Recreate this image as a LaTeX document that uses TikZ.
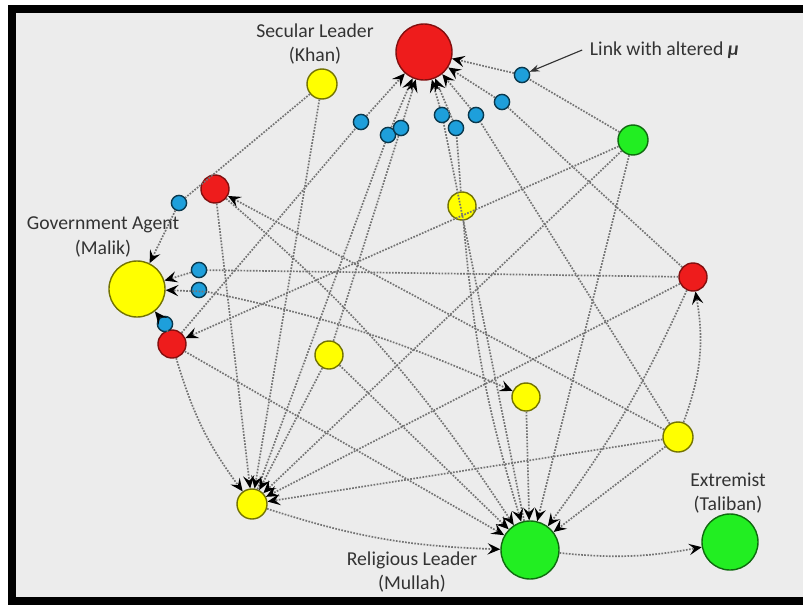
\documentclass[tikz,border=0pt]{standalone}
\usepackage{fontspec}
\setmainfont{Carlito}
\usetikzlibrary{arrows.meta}

\definecolor{bgcol}{HTML}{ECECEC}
\definecolor{agred}{HTML}{EE1C1C}
\definecolor{agyellow}{HTML}{FFFF00}
\definecolor{aggreen}{HTML}{22EE22}
\definecolor{agblue}{HTML}{1E9FDB}

\tikzset{
  agent/.style={circle, line width=1pt, inner sep=0pt},
  redag/.style={agent, fill=agred, draw=agred!55!black},
  yelag/.style={agent, fill=agyellow, draw=agyellow!45!black},
  grnag/.style={agent, fill=aggreen, draw=aggreen!45!black},
  bluemk/.style={agent, fill=agblue, draw=agblue!35!black, minimum size=0.38cm},
  link/.style={densely dotted, line width=1.2pt, black!55, -{Stealth[black, length=9pt, width=8pt, inset=3.5pt]}},
  twoway/.style={link, {Stealth[black, length=9pt, width=8pt, inset=3.5pt]}-{Stealth[black, length=9pt, width=8pt, inset=3.5pt]}},
  lbl/.style={font=\fontsize{14}{17.5}\selectfont, text=black!80, align=center}
}

\begin{document}
\begin{tikzpicture}[x=0.025cm, y=-0.025cm]
\useasboundingbox (0,0) rectangle (803,605);
\fill[black] (8,5) rectangle (803,605);
\fill[bgcol] (16,13) rectangle (803,597);

% agents
\node[redag, minimum size=1.4cm] at (424,52) (r1) {};
\node[yelag, minimum size=0.75cm] at (322,84) (khan) {};
\node[redag, minimum size=0.7cm] at (215,189) (rl) {};
\node[yelag, minimum size=1.4cm] at (137,289) (malik) {};
\node[redag, minimum size=0.7cm] at (172,344) (rlo) {};
\node[grnag, minimum size=0.75cm] at (633,140) (g1) {};
\node[yelag, minimum size=0.7cm] at (462,206) (ym) {};
\node[redag, minimum size=0.7cm] at (693,277) (rr) {};
\node[yelag, minimum size=0.7cm] at (329,355) (y2) {};
\node[yelag, minimum size=0.7cm] at (526,397) (y3) {};
\node[yelag, minimum size=0.75cm] at (678,437) (y4) {};
\node[yelag, minimum size=0.75cm] at (252,504) (yb) {};
\node[grnag, minimum size=1.45cm] at (530,550) (mullah) {};
\node[grnag, minimum size=1.4cm] at (730,542) (taliban) {};

% altered links
\node[bluemk] at (179,203) (b1) {};
\node[bluemk] at (199,270) (b2) {};
\node[bluemk] at (199,290) (b3) {};
\node[bluemk] at (165,324) (b4) {};
\node[bluemk] at (361,122) (b5) {};
\node[bluemk] at (388,135) (b6) {};
\node[bluemk] at (401,128) (b7) {};
\node[bluemk] at (442,115) (b8) {};
\node[bluemk] at (456,128) (b9) {};
\node[bluemk] at (476,115) (b10) {};
\node[bluemk] at (502,102) (b11) {};
\node[bluemk] at (522,75) (b12) {};

% links into the top red agent
\draw[link] (rlo) -- (b5) -- (r1);
\draw[link] (yb) -- (b6) -- (r1);
\draw[link] (y2) -- (b7) -- (r1);
\draw[link] (mullah) -- (b8) -- (r1);
\draw[link] (ym) -- (b9) -- (r1);
\draw[link] (y4) -- (b10) -- (r1);
\draw[link] (rr) -- (b11) -- (r1);
\draw[link] (g1) -- (b12) -- (r1);

% links into Malik
\draw[link] (khan) -- (b1) -- (malik);
\draw[link] (rr) -- (b2) -- (malik);
\draw[twoway] (y3) to[bend right=6] (b3) -- (malik);
\draw[link] (rlo) -- (b4) -- (malik);

\draw[link] (y4) -- (rl);
\draw[link] (g1) -- (rlo);
\draw[link] (y4) to[bend right=15] (rr);
\draw[link] (mullah) to[bend right=8] (taliban);

% links into the lower yellow agent
\draw[link] (khan) -- (yb);
\draw[link] (rl) -- (yb);
\draw[link] (rlo) to[bend right=10] (yb);
\draw[link] (g1) -- (yb);
\draw[link] (rr) -- (yb);
\draw[link] (y4) -- (yb);
\draw[link] (y2) -- (yb);

% links into the Mullah
\draw[link] (yb) to[bend right=8] (mullah);
\draw[link] (rlo) -- (mullah);
\draw[link] (rl) to[bend left=8] (mullah);
\draw[link] (y2) -- (mullah);
\draw[link] (ym) to[bend right=6] (mullah);
\draw[link] (y3) -- (mullah);
\draw[link] (g1) -- (mullah);
\draw[link] (y4) -- (mullah);
\draw[link] (rr) to[bend left=6] (mullah);

% labels
\node[lbl] at (315,44) (khanlbl) {Secular Leader\\(Khan)};
\node[lbl] at (103,237) (maliklbl) {Government Agent\\(Malik)};
\node[lbl] at (412,572) (mullahlbl) {Religious Leader\\(Mullah)};
\node[lbl] at (728,493) (talibanlbl) {Extremist\\(Taliban)};
\node[lbl, anchor=west] at (585,50) (linklbl) {Link with altered {\bfseries\itshape μ}};
\draw[-{Stealth[length=7pt, width=5pt]}, line width=0.8pt, black!80] ([xshift=-2pt]linklbl.west) -- (b12);
\end{tikzpicture}
\end{document}
